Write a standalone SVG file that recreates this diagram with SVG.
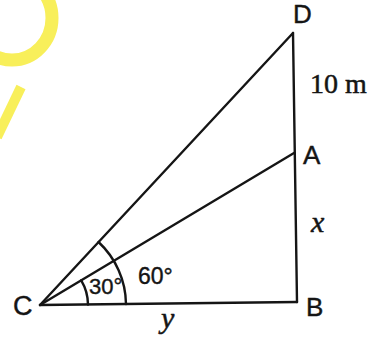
<svg xmlns="http://www.w3.org/2000/svg" width="374" height="339" viewBox="0 0 374 339">
<style>
.ln{stroke:#151515;stroke-width:2.4;fill:none;stroke-linecap:round;stroke-linejoin:round}
.lb{font-family:"Liberation Sans",Arial,sans-serif;fill:#151515;stroke:#151515;stroke-width:0.4}
.sr{font-family:"Liberation Serif","Times New Roman",serif;fill:#151515;stroke:#151515;stroke-width:0.5}
.wm{stroke:#f8ef5a;fill:none}
</style>
<rect width="374" height="339" fill="#ffffff"/>
<g id="watermark">
<ellipse class="wm" cx="12" cy="18" rx="40" ry="42" stroke-width="13"/>
<line class="wm" x1="21" y1="87" x2="-3" y2="137" stroke-width="10"/>
</g>
<g id="connectors">
<line class="ln" x1="40" y1="305" x2="297" y2="302"/>
<line class="ln" x1="293" y1="33" x2="297" y2="302"/>
<line class="ln" x1="40" y1="305" x2="293" y2="33"/>
<line class="ln" x1="40" y1="305" x2="294" y2="153"/>
<path class="ln" d="M88 304.5 A48 48 0 0 0 81.2 280.3"/>
<path class="ln" d="M126 304 A86 86 0 0 0 98.5 242"/>
</g>
<g id="C"><text class="lb" x="13" y="315" font-size="27">C</text></g>
<g id="B"><text class="lb" x="306" y="316" font-size="26">B</text></g>
<g id="A"><text class="lb" x="303" y="164" font-size="26">A</text></g>
<g id="D"><text class="lb" x="293" y="23" font-size="26">D</text></g>
<g id="labels">
<text class="sr" x="310" y="93" font-size="28">10 m</text>
<text class="sr" x="311" y="232" font-size="30" font-style="italic">x</text>
<text class="sr" x="161" y="328" font-size="30" font-style="italic">y</text>
<text class="lb" x="89" y="294" font-size="22">30°</text>
<text class="lb" x="138" y="284" font-size="23">60°</text>
</g>
</svg>
